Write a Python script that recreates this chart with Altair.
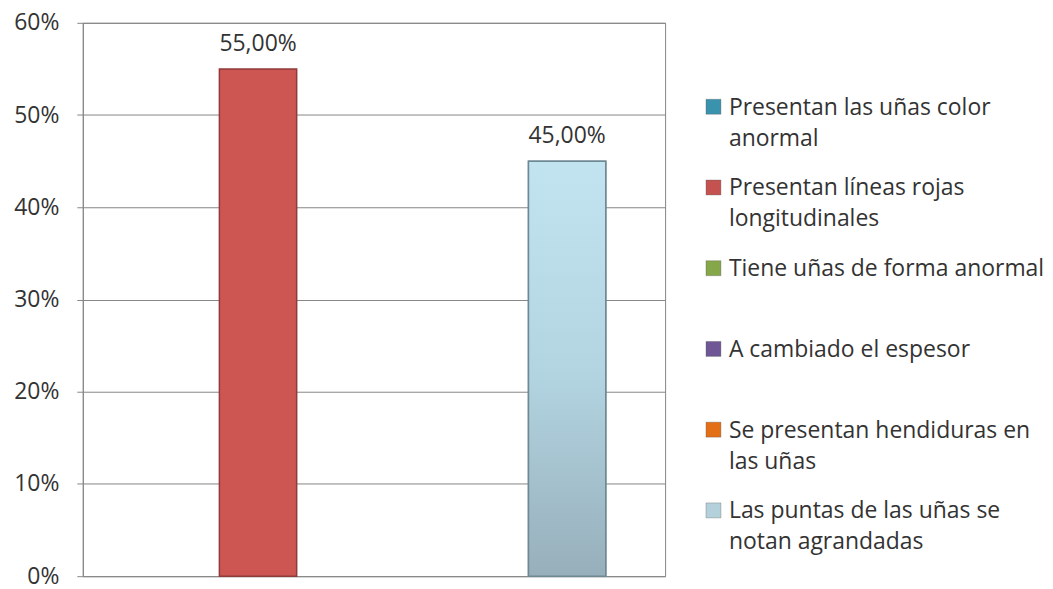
import altair as alt
import pandas as pd

# ---- data ----
series = [
    "Presentan las uñas color anormal",
    "Presentan líneas rojas longitudinales",
    "Tiene uñas de forma anormal",
    "A cambiado el espesor",
    "Se presentan hendiduras en las uñas",
    "Las puntas de las uñas se notan agrandadas",
]
legend_text = [
    "Presentan las uñas color\nanormal",
    "Presentan líneas rojas\nlongitudinales",
    "Tiene uñas de forma anormal",
    "A cambiado el espesor",
    "Se presentan hendiduras en\nlas uñas",
    "Las puntas de las uñas se\nnotan agrandadas",
]
values = [None, 0.55, None, None, None, 0.45]
y_ticks = [0, 0.1, 0.2, 0.3, 0.4, 0.5, 0.6]

bar_colors = ["#4BACC6", "#CD5653", "#9BBB59", "#8064A2", "#F79646", "#BEE2EF"]
bar_strokes = ["#2E7E93", "#8F3B39", "#6F8A3C", "#5B467A", "#B56A2F", "#6E8994"]
legend_colors = ["#3A93AC", "#C4524F", "#86A64A", "#6E5794", "#E36F17", "#B3D0DB"]
gradient_series = series[5]

df = pd.DataFrame({
    "serie": series,
    "valor": values,
    "leyenda": legend_text,
    "simbolo": legend_colors,
})

FONT = "Open Sans"
FS = 23
GRID = "#868686"
TXT = "#333333"

base = alt.Chart(df)

x = alt.X("serie:N", sort=series, axis=None,
          scale=alt.Scale(domain=series, paddingInner=0, paddingOuter=0.768))
y = alt.Y("valor:Q", title=None,
          scale=alt.Scale(domain=[0, 0.6]),
          axis=alt.Axis(values=y_ticks, format=".0%", labelFont=FONT,
                        labelFontSize=FS, labelColor=TXT, tickSize=6,
                        tickColor=GRID, domainColor=GRID, gridColor=GRID,
                        labelPadding=18, minExtent=69, maxExtent=69))

valid = base.transform_filter("isValid(datum.valor)")

bars = valid.mark_bar(strokeWidth=1.5).encode(
    x=x, y=y,
    color=alt.Color("serie:N", scale=alt.Scale(domain=series, range=bar_colors), legend=None),
    stroke=alt.Stroke("serie:N", scale=alt.Scale(domain=series, range=bar_strokes), legend=None),
)

grad = valid.transform_filter(alt.datum.serie == gradient_series).mark_bar(
    fill=alt.Gradient(
        gradient="linear",
        stops=[alt.GradientStop(color="#C2E4F1", offset=0),
               alt.GradientStop(color="#B3D5E2", offset=0.5),
               alt.GradientStop(color="#97AFBB", offset=1)],
        x1=0, x2=0, y1=0, y2=1),
    stroke="#6E8994", strokeWidth=1.5,
).encode(x=x, y=y)

labels = valid.transform_calculate(
    etiqueta="replace(format(datum.valor, '.2%'), '.', ',')"
).mark_text(baseline="alphabetic", dy=-18, font=FONT, fontSize=FS, color=TXT).encode(
    x=x, y=y, text="etiqueta:N")

plot = alt.layer(bars, grad, labels).properties(
    width=584, height=555,
    view=alt.ViewBackground(stroke=GRID, strokeWidth=1),
)

ly = alt.Y("serie:N", sort=series, axis=None,
           scale=alt.Scale(type="point", domain=series, padding=0.52, align=1))

sym = alt.Chart(df).mark_square(size=225, opacity=1, strokeWidth=0.8, stroke="#555555", strokeOpacity=0.4).encode(
    x=alt.value(14.5), y=ly,
    color=alt.Color("simbolo:N", scale=None, legend=None),
)
txt = alt.Chart(df).mark_text(align="left", baseline="alphabetic", dy=8, lineBreak="\n",
                              lineHeight=31, font=FONT, fontSize=FS, color=TXT).encode(
    x=alt.value(30), y=ly, text="leyenda:N")

legend = alt.layer(sym, txt).properties(
    width=330, height=489,
    view=alt.ViewBackground(stroke="transparent"),
)

chart = alt.hconcat(plot, legend, spacing=34, bounds="flush").properties(
    padding={"left": 5, "top": 2, "right": 0, "bottom": 0},
).configure(background="white")

chart.save("out.html", embed_options={"renderer": "svg", "actions": False})
